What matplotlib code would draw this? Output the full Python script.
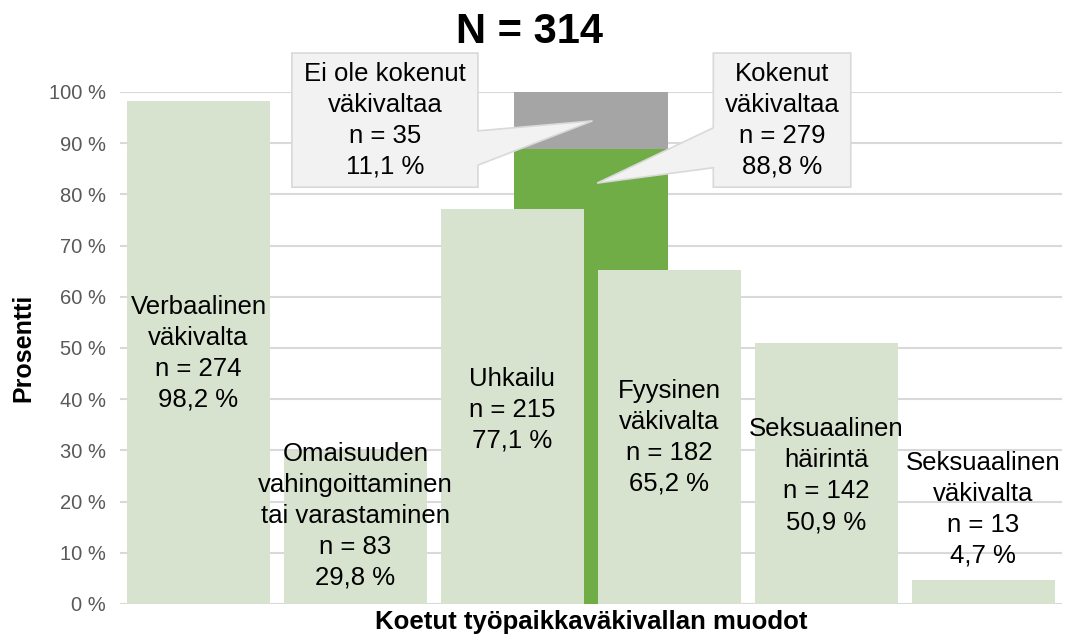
import matplotlib.pyplot as plt
from matplotlib.patches import Polygon
import numpy as np

plt.rcParams['font.family'] = ['Liberation Sans', 'DejaVu Sans']

# data
categories = ['Verbaalinen\nväkivalta', 'Omaisuuden\nvahingoittaminen\ntai varastaminen',
              'Uhkailu', 'Fyysinen\nväkivalta', 'Seksuaalinen\nhäirintä', 'Seksuaalinen\nväkivalta']
counts = [274, 83, 215, 182, 142, 13]
percents = [98.2, 29.8, 77.1, 65.2, 50.9, 4.7]
label_y = [49.0, 17.2, 37.9, 32.6, 25.0, 18.5]

total_n = 314
kokenut = ['Kokenut\nväkivaltaa', 279, 88.8]
ei_kokenut = ['Ei ole kokenut\nväkivaltaa', 35, 11.1]

light_green = '#D7E3CF'
dark_green = '#70AD47'
grey = '#A5A5A5'

fig = plt.figure(figsize=(10.66, 6.39), dpi=100)
ax = fig.add_axes([0.1126, 0.0548, 0.8834, 0.8013])

x = np.arange(len(categories))

# background stacked bar (whole sample)
ax.bar(2.5, kokenut[2], width=0.98, color=dark_green, zorder=1)
ax.bar(2.5, ei_kokenut[2], width=0.98, bottom=kokenut[2], color=grey, zorder=1)

# front bars
ax.bar(x, percents, width=0.91, color=light_green, zorder=2)

for i in range(len(categories)):
    txt = categories[i] + '\nn = %d\n%s %%' % (counts[i], ('%.1f' % percents[i]).replace('.', ','))
    ax.text(x[i], label_y[i], txt, ha='center', va='center', fontsize=18.5,
            linespacing=1.37, zorder=5)

ax.set_xlim(-0.5, 5.5)
ax.set_ylim(0, 100)
ax.set_yticks(np.arange(0, 101, 10))
ax.set_yticklabels(['%d %%' % v for v in range(0, 101, 10)])
ax.set_xticks([])
ax.tick_params(axis='y', length=0, labelsize=14.5, labelcolor='#595959', pad=10)
for s in ax.spines.values():
    s.set_visible(False)
ax.grid(axis='y', color='#D9D9D9', linewidth=1.5, zorder=0)
ax.set_axisbelow(True)

ax.set_ylabel('Prosentti', fontsize=18, fontweight='bold', labelpad=10)
ax.set_xlabel('Koetut työpaikkaväkivallan muodot', fontsize=18.5, fontweight='bold', labelpad=4)

fig.text(0.497, 0.950, 'N = %d' % total_n, ha='center', va='center', fontsize=30, fontweight='bold')

# callouts
def callout(x0, x1, y0, y1, side, b0, b1, tip, text):
    if side == 'right':
        pts = [(x0, y0), (x1, y0), (x1, b0), tip, (x1, b1), (x1, y1), (x0, y1)]
    else:
        pts = [(x0, y0), (x1, y0), (x1, y1), (x0, y1), (x0, b1), tip, (x0, b0)]
    ax.add_patch(Polygon(pts, closed=True, facecolor='#F2F2F2', edgecolor='#D9D9D9',
                         linewidth=1.2, clip_on=False, zorder=6))
    ax.text((x0 + x1) / 2, (y0 + y1) / 2, text, ha='center', va='center', fontsize=18.5,
            linespacing=1.37, zorder=7)

txt_ei = ei_kokenut[0] + '\nn = %d\n%s %%' % (ei_kokenut[1], ('%.1f' % ei_kokenut[2]).replace('.', ','))
txt_ko = kokenut[0] + '\nn = %d\n%s %%' % (kokenut[1], ('%.1f' % kokenut[2]).replace('.', ','))
callout(0.595, 1.78, 81.4, 107.6, 'right', 85.7, 92.4,
        (2.51, kokenut[2] + ei_kokenut[2] / 2), txt_ei)
callout(3.28, 4.156, 81.4, 107.6, 'left', 85.2, 93.0,
        (2.54, kokenut[2] - 6.6), txt_ko)

fig.savefig('out.png', dpi=100)
